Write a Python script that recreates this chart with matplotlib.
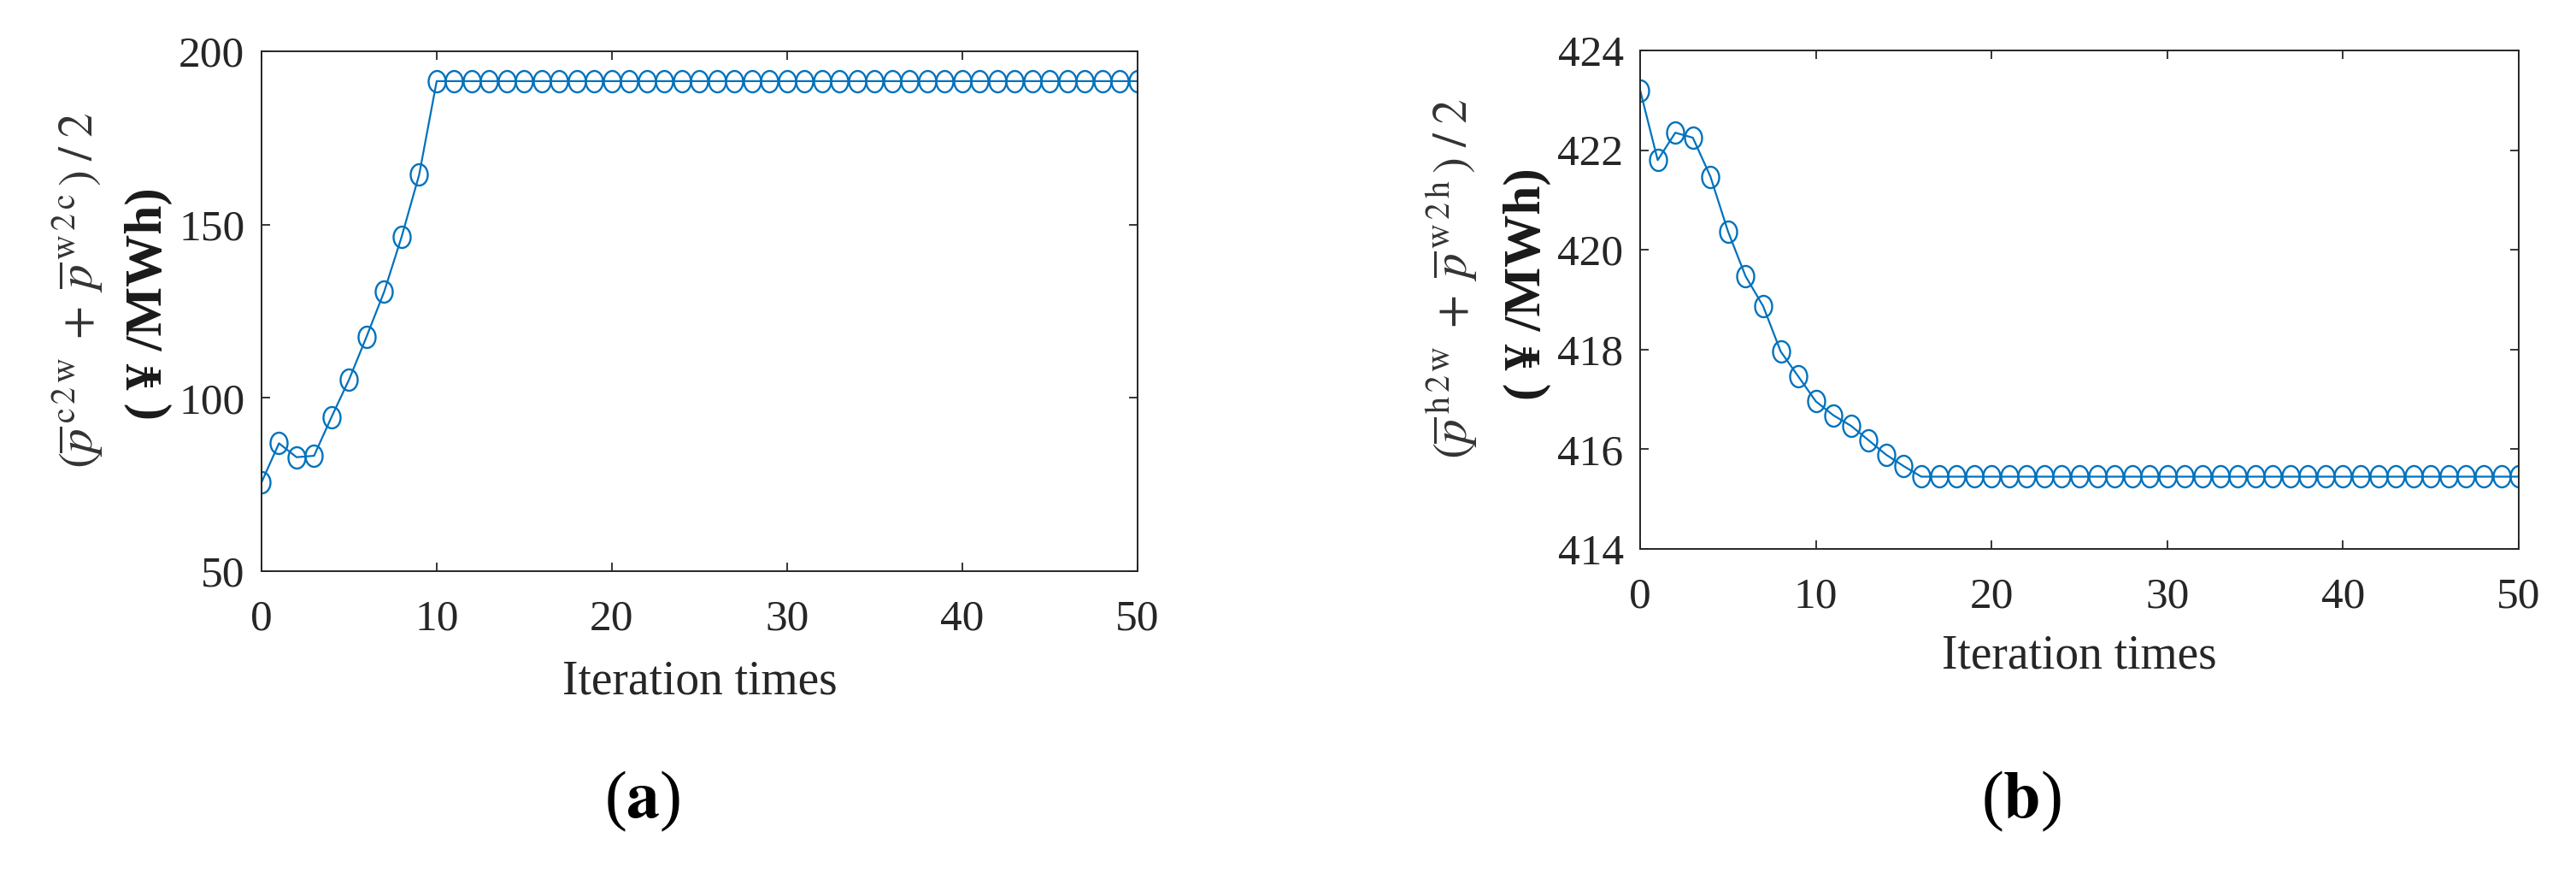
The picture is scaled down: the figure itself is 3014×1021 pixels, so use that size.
import matplotlib
matplotlib.use("Agg")
import matplotlib.pyplot as plt
from matplotlib.path import Path

plt.rcParams['font.family'] = ['Liberation Serif', 'DejaVu Serif']
plt.rcParams['mathtext.fontset'] = 'stix'

# iteration index and the two average prices
iters = list(range(51))

price_cw = [75.6, 86.9, 82.9, 83.3, 94.5, 105.3, 117.7, 130.6, 146.5, 164.4,
            191.4, 191.4, 191.4, 191.4, 191.4, 191.4, 191.4, 191.4, 191.4, 191.4,
            191.4, 191.4, 191.4, 191.4, 191.4, 191.4, 191.4, 191.4, 191.4, 191.4,
            191.4, 191.4, 191.4, 191.4, 191.4, 191.4, 191.4, 191.4, 191.4, 191.4,
            191.4, 191.4, 191.4, 191.4, 191.4, 191.4, 191.4, 191.4, 191.4, 191.4,
            191.4]

price_hw = [423.2, 421.8, 422.35, 422.25, 421.47, 420.37, 419.47, 418.87, 417.96, 417.46,
            416.96, 416.68, 416.47, 416.18, 415.89, 415.66, 415.45, 415.45, 415.45, 415.45,
            415.45, 415.45, 415.45, 415.45, 415.45, 415.45, 415.45, 415.45, 415.45, 415.45,
            415.45, 415.45, 415.45, 415.45, 415.45, 415.45, 415.45, 415.45, 415.45, 415.45,
            415.45, 415.45, 415.45, 415.45, 415.45, 415.45, 415.45, 415.45, 415.45, 415.45,
            415.45]

xticks = [0, 10, 20, 30, 40, 50]
yticks_a = [50, 100, 150, 200]
yticks_b = [414, 416, 418, 420, 422, 424]

label_a = r'$(\overline{p}^{\,\mathrm{c\,2\,w}}\;+\;\overline{p}^{\,\mathrm{w\,2\,c}}\,)\;/\;2$'
label_b = r'$(\overline{p}^{\,\mathrm{h\,2\,w}}\;+\;\overline{p}^{\,\mathrm{w\,2\,h}}\,)\;/\;2$'
unit = '( ¥ /MWh)'

blue = '#0072BD'
dark = '#262626'

# slightly squeezed circle, like the stretched original
uc = Path.unit_circle()
oval = Path(uc.vertices * [0.8, 1.0], uc.codes)

fig = plt.figure(figsize=(30.14, 10.21), dpi=100)
ax1 = fig.add_axes([0.1015, 0.3457, 0.3401, 0.5955])
ax2 = fig.add_axes([0.6367, 0.3712, 0.3411, 0.5710])


def style(ax, y, yt, ylim, lab, lab_x, unit_x, lab_y, unit_y):
    ax.plot(iters, y, color=blue, lw=1.6, marker=oval, ms=18, mfc='none',
            mec=blue, mew=1.7)
    ax.set_xlim(0, 50)
    ax.set_ylim(*ylim)
    ax.set_xticks(xticks)
    ax.set_yticks(yt)
    for s in ax.spines.values():
        s.set_color(dark)
        s.set_linewidth(1.4)
    ax.tick_params(direction='in', top=True, right=True, length=7.5, width=1.3,
                   colors=dark, labelsize=37)
    ax.tick_params(axis='x', pad=24)
    ax.tick_params(axis='y', pad=14)
    ax.set_xlabel('Iteration times', fontsize=40, color=dark)
    ax.xaxis.set_label_coords(0.5, -0.17)
    ax.text(lab_x, lab_y, lab, transform=ax.transAxes, rotation=90,
            ha='center', va='center', fontsize=41, color='#333333')
    ax.text(unit_x, unit_y, unit, transform=ax.transAxes, rotation=90,
            ha='center', va='center', fontsize=44, fontweight='bold', color='#1a1a1a')


style(ax1, price_cw, yticks_a, (50, 200), label_a, -0.209, -0.129, 0.541, 0.515)
style(ax2, price_hw, yticks_b, (414, 424), label_b, -0.213, -0.128, 0.542, 0.531)

fig.text(0.2495, 0.0823, r'($\mathbf{a}$)', ha='center', va='center', fontsize=56)
fig.text(0.7847, 0.0823, r'($\mathbf{b}$)', ha='center', va='center', fontsize=56)

fig.savefig('out.png', dpi=100)
